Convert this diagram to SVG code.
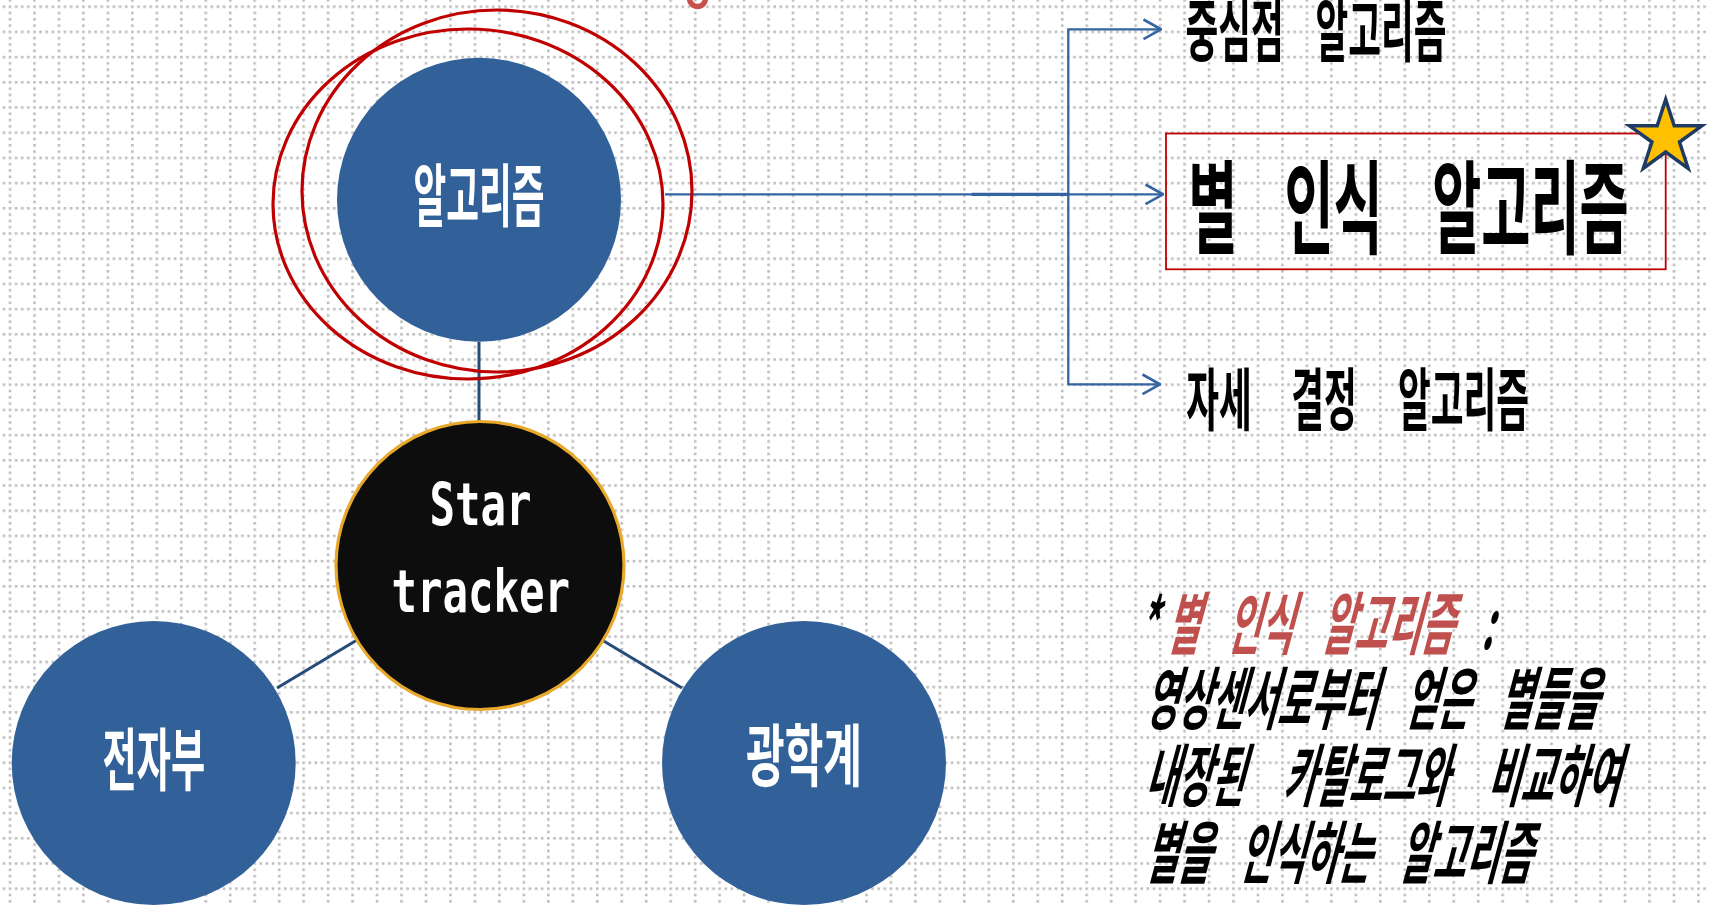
<svg xmlns="http://www.w3.org/2000/svg" width="1709" height="906" viewBox="0 0 1709 906">
<defs>
<pattern id="grid" patternUnits="userSpaceOnUse" x="8.7" y="5.4" width="24.47" height="25.2">
<g fill="#BDBDBD">
<rect x="0" y="0" width="2.6" height="2.6"/>
<rect x="6.12" y="0" width="2.6" height="2.6"/>
<rect x="12.24" y="0" width="2.6" height="2.6"/>
<rect x="18.35" y="0" width="2.6" height="2.6"/>
<rect x="0" y="6.3" width="2.6" height="2.6"/>
<rect x="0" y="12.6" width="2.6" height="2.6"/>
<rect x="0" y="18.9" width="2.6" height="2.6"/>
</g>
</pattern>
<marker id="arr" markerUnits="userSpaceOnUse" viewBox="0 0 20 22" refX="19" refY="11" markerWidth="20" markerHeight="22" orient="auto">
<path d="M1.5,1.2 L19,11 L1.5,20.8" fill="none" stroke="#3465A2" stroke-width="2.6"/>
</marker>
<style>
.k { font-family: "Noto Sans CJK KR", "Noto Sans", sans-serif; font-weight: 700; font-size: 40px; }
.big { font-size: 60px; }
.w { fill: #FFFFFF; }
.b { fill: #000000; }
.red { fill: #C0504D; }
.blue { fill: #326199; }
.conn { stroke: #264B7A; stroke-width: 3; fill: none; }
.arrow { stroke: #3465A2; stroke-width: 2.3; fill: none; }
.hl { stroke: #C00000; stroke-width: 3.2; fill: none; }
.mono { font-family: "DejaVu Sans Mono", "Liberation Mono", monospace; font-weight: 700; font-size: 40px; fill: #FFFFFF; }
</style>
</defs>

<rect x="0" y="0" width="1709" height="906" fill="#FFFFFF"/>
<rect x="0" y="0" width="1709" height="906" fill="url(#grid)"/>

<g id="connectors">
<line class="conn" x1="479" y1="342" x2="479" y2="421"/>
<line class="conn" x1="357" y1="640" x2="277" y2="688"/>
<line class="conn" x1="602" y1="640" x2="682" y2="688"/>
<line class="arrow" x1="665" y1="194.3" x2="1163" y2="194.3" marker-end="url(#arr)"/>
<line class="arrow" x1="971.7" y1="194.3" x2="1068.3" y2="194.3" style="stroke-width:3.2"/>
<polyline class="arrow" points="1068.3,385 1068.3,29.3 1161,29.3" marker-end="url(#arr)"/>
<line class="arrow" x1="1068.3" y1="384.3" x2="1160" y2="384.3" marker-end="url(#arr)"/>
</g>

<g id="node-algorithm">
<circle cx="479" cy="199.7" r="142" class="blue"/>
<text class="k w" text-anchor="middle" transform="translate(479,220.5) scale(0.89,1.71)" x="0" y="0">알고리즘</text>
</g>

<g id="highlight">
<ellipse class="hl" cx="468" cy="204" rx="195" ry="175"/>
<ellipse class="hl" cx="497" cy="191" rx="195" ry="181"/>
<circle cx="697.5" cy="-1.5" r="8" fill="none" stroke="#C8504C" stroke-width="5.5"/>
</g>

<g id="node-startracker">
<circle cx="480" cy="565.5" r="144" fill="#0D0D0D" stroke="#E8A82A" stroke-width="3.2"/>
<text class="mono" text-anchor="middle" transform="translate(480.5,525) scale(1.06,1.45)" x="0" y="0">Star</text>
<text class="mono" text-anchor="middle" transform="translate(480.8,612.3) scale(1.06,1.45)" x="0" y="0">tracker</text>
</g>

<g id="node-electronics">
<circle cx="153.7" cy="763" r="142" class="blue"/>
<text class="k w" text-anchor="middle" transform="translate(153.8,784.5) scale(0.93,1.71)" x="0" y="0">전자부</text>
</g>

<g id="node-optics">
<circle cx="804" cy="763" r="142" class="blue"/>
<text class="k w" text-anchor="middle" transform="translate(804,781) scale(1.05,1.71)" x="0" y="0">광학계</text>
</g>

<g id="node-centroid">
<text class="k b" transform="translate(1185.6,55.5) scale(0.89,1.71)" y="0"><tspan x="0">중심점 </tspan><tspan x="146">알고리즘</tspan></text>
</g>

<g id="node-star-id">
<rect x="1166" y="133.5" width="499.7" height="135.8" fill="none" stroke="#C00000" stroke-width="1.8"/>
<text class="k big b" transform="translate(1188.3,246) scale(0.89,1.71)" y="0"><tspan x="0">별 </tspan><tspan x="108">인식 </tspan><tspan x="274">알고리즘</tspan></text>
<polygon points="1665.7,99.5 1674.2,125.8 1701.9,125.8 1679.5,142 1688.1,168.3 1665.7,152 1643.3,168.3 1651.9,142 1629.5,125.8 1657.2,125.8" fill="#FFC000" stroke="#1F3A63" stroke-width="3.5" stroke-linejoin="miter"/>
</g>

<g id="node-attitude">
<text class="k b" transform="translate(1186.2,425) scale(0.89,1.71)" y="0"><tspan x="0">자세 </tspan><tspan x="118">결정 </tspan><tspan x="238">알고리즘</tspan></text>
</g>

<g id="note">
<text class="k b" word-spacing="22" transform="translate(1137,649) skewX(-15) scale(0.9,1.71)" x="0" y="0">*<tspan class="red" dx="11">별 인식 알고리즘</tspan> :</text>
<text class="k b" word-spacing="22" transform="translate(1144,724) skewX(-15) scale(0.9,1.71)" x="0" y="0">영상센서로부터 얻은 별들을</text>
<text class="k b" word-spacing="34" transform="translate(1144,801) skewX(-15) scale(0.9,1.71)" x="0" y="0">내장된 카탈로그와 비교하여</text>
<text class="k b" word-spacing="22" transform="translate(1144,878) skewX(-15) scale(0.9,1.71)" x="0" y="0">별을 인식하는 알고리즘</text>
</g>
</svg>
